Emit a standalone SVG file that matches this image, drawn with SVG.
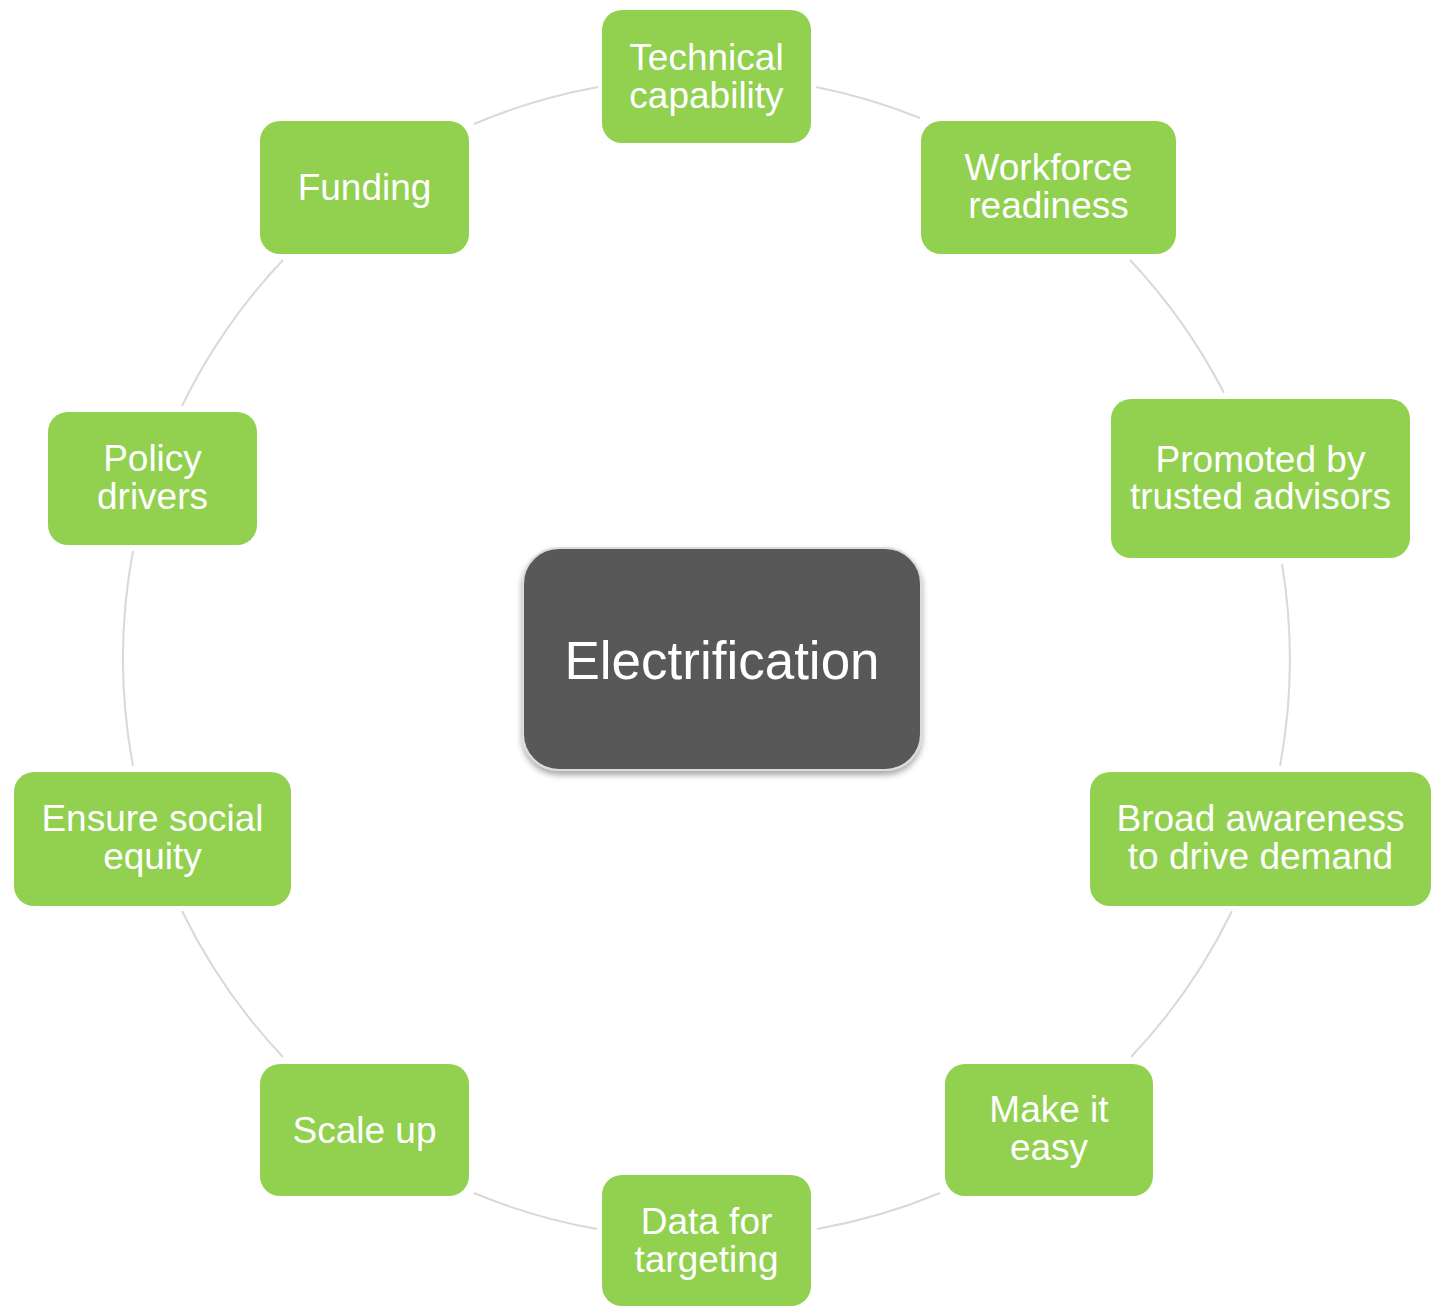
<svg xmlns="http://www.w3.org/2000/svg" width="1440" height="1307" viewBox="0 0 1440 1307">
<style>
.n{fill:#92D050}
.t{fill:#fff;font-family:"Liberation Sans",Arial,sans-serif;font-size:37px;text-anchor:middle}
.c{fill:none;stroke:#d9d9d9;stroke-width:2}
</style>
<defs>
<filter id="sh" x="-10%" y="-10%" width="120%" height="130%">
<feDropShadow dx="0" dy="4" stdDeviation="3" flood-color="#000" flood-opacity="0.35"/>
</filter>
</defs>
<rect width="1440" height="1307" fill="#fff"/>
<g id="connectors">
<path class="c" d="M816 87 A583 583 0 0 1 920 118"/>
<path class="c" d="M1130 260 A583 583 0 0 1 1224 393"/>
<path class="c" d="M1282 564 A583 583 0 0 1 1280 766"/>
<path class="c" d="M1232 911 A583 583 0 0 1 1131 1057"/>
<path class="c" d="M940 1193 A583 583 0 0 1 817 1229"/>
<path class="c" d="M597 1229 A583 583 0 0 1 474 1193"/>
<path class="c" d="M283 1057 A583 583 0 0 1 182 911"/>
<path class="c" d="M133 766 A583 583 0 0 1 133 551"/>
<path class="c" d="M182 406 A583 583 0 0 1 283 260"/>
<path class="c" d="M474 124 A583 583 0 0 1 598 87"/>
</g>
<g id="center">
<rect x="523" y="548" width="398" height="222" rx="36" fill="#595959" stroke="#dcdcdc" stroke-width="2" filter="url(#sh)"/>
<text x="722" y="679" class="t" style="font-size:53px">Electrification</text>
</g>
<g id="technical">
<rect class="n" x="602" y="10" width="209" height="133" rx="20"/>
<text class="t" x="706.5" y="70">Technical</text>
<text class="t" x="706.5" y="108">capability</text>
</g>
<g id="workforce">
<rect class="n" x="921" y="121" width="255" height="133" rx="20"/>
<text class="t" x="1048.5" y="180">Workforce</text>
<text class="t" x="1048.5" y="218">readiness</text>
</g>
<g id="promoted">
<rect class="n" x="1111" y="399" width="299" height="159" rx="20"/>
<text class="t" x="1260.5" y="471.5">Promoted by</text>
<text class="t" x="1260.5" y="509">trusted advisors</text>
</g>
<g id="broad">
<rect class="n" x="1090" y="772" width="341" height="134" rx="20"/>
<text class="t" x="1260.5" y="831">Broad awareness</text>
<text class="t" x="1260.5" y="869">to drive demand</text>
</g>
<g id="easy">
<rect class="n" x="945" y="1064" width="208" height="132" rx="20"/>
<text class="t" x="1049" y="1122">Make it</text>
<text class="t" x="1049" y="1160">easy</text>
</g>
<g id="data">
<rect class="n" x="602" y="1175" width="209" height="131" rx="20"/>
<text class="t" x="706.5" y="1234">Data for</text>
<text class="t" x="706.5" y="1272">targeting</text>
</g>
<g id="scale">
<rect class="n" x="260" y="1064" width="209" height="132" rx="20"/>
<text class="t" x="364.5" y="1143">Scale up</text>
</g>
<g id="equity">
<rect class="n" x="14" y="772" width="277" height="134" rx="20"/>
<text class="t" x="152.5" y="831">Ensure social</text>
<text class="t" x="152.5" y="869">equity</text>
</g>
<g id="policy">
<rect class="n" x="48" y="412" width="209" height="133" rx="20"/>
<text class="t" x="152.5" y="471">Policy</text>
<text class="t" x="152.5" y="509">drivers</text>
</g>
<g id="funding">
<rect class="n" x="260" y="121" width="209" height="133" rx="20"/>
<text class="t" x="364.5" y="200">Funding</text>
</g>
</svg>
